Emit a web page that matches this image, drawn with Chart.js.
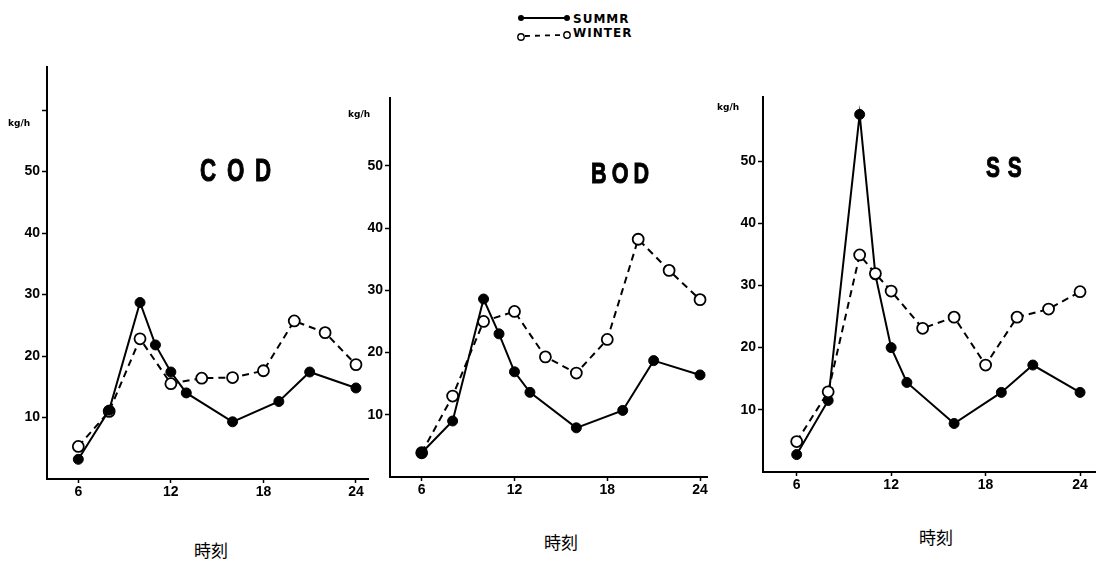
<!DOCTYPE html>
<html>
<head>
<meta charset="utf-8">
<script src="https://cdn.jsdelivr.net/npm/chart.js@4.4.1/dist/chart.umd.min.js"></script>
<style>
  body { margin: 0; width: 1103px; height: 561px; background: #fff; position: relative; overflow: hidden; }
  canvas { position: absolute; }
  .lbl { position: absolute; color: #000; white-space: nowrap; line-height: 1; }
  .ttl { font-family: "Liberation Sans", Arial, sans-serif; font-weight: bold; transform: scaleX(0.72); transform-origin: 0 0; -webkit-text-stroke: 1px #000; }
  .unit { font: bold 9px "DejaVu Sans", sans-serif; }
  .xname { font: 17px "Noto Sans CJK JP", sans-serif; }
  .lgd { font: bold 12px "DejaVu Sans", sans-serif; letter-spacing: 1px; }
  #legendMarks { position: absolute; left: 512px; top: 8px; }
</style>
</head>
<body>

<svg id="legendMarks" width="62" height="38"></svg>
<div class="lbl lgd" style="left:573px; top:12px;">SUMMR</div>
<div class="lbl lgd" style="left:573px; top:26px;">WINTER</div>

<canvas id="codChart" width="385" height="470" style="left:0px; top:50px;"></canvas>
<canvas id="bodChart" width="380" height="470" style="left:340px; top:50px;"></canvas>
<canvas id="ssChart" width="388" height="470" style="left:715px; top:50px;"></canvas>

<div class="lbl ttl" style="left:200px; top:155px; font-size:31px; letter-spacing:15px;">COD</div>
<div class="lbl ttl" style="left:591px; top:158px; font-size:30px; letter-spacing:7px;">BOD</div>
<div class="lbl ttl" style="left:986px; top:153px; font-size:29px; letter-spacing:11px;">SS</div>

<div class="lbl unit" style="left:8px; top:118px;">kg/h</div>
<div class="lbl unit" style="left:348px; top:109px;">kg/h</div>
<div class="lbl unit" style="left:717px; top:102px;">kg/h</div>

<div class="lbl xname" style="left:194px; top:537px;">時刻</div>
<div class="lbl xname" style="left:544px; top:529px;">時刻</div>
<div class="lbl xname" style="left:919px; top:524px;">時刻</div>

<script>
// hour-of-day ticks shared by all three panels
const hourTicks = [6, 12, 18, 24];

// COD (kg/h)
const codSummerHours = [6, 8, 10, 11, 12, 13, 16, 19, 21, 24];
const codSummerLoad  = [3.2, 11.2, 28.7, 21.8, 17.4, 14.0, 9.3, 12.6, 17.4, 14.8];
const codWinterHours = [6, 8, 10, 12, 14, 16, 18, 20, 22, 24];
const codWinterLoad  = [5.3, 11.0, 22.8, 15.5, 16.4, 16.5, 17.6, 25.7, 23.8, 18.6];
const codYTicks  = [10, 20, 30, 40, 50, 60];
const codYLabels = ['10', '20', '30', '40', '50', ''];

// BOD (kg/h)
const bodSummerHours = [6, 8, 10, 11, 12, 13, 16, 19, 21, 24];
const bodSummerLoad  = [3.9, 9.0, 28.6, 23.0, 16.9, 13.6, 7.9, 10.7, 18.7, 16.4];
const bodWinterHours = [6, 8, 10, 12, 14, 16, 18, 20, 22, 24];
const bodWinterLoad  = [3.9, 13.0, 25.0, 26.6, 19.3, 16.7, 22.1, 38.2, 33.2, 28.5];
const bodYTicks  = [10, 20, 30, 40, 50];
const bodYLabels = ['10', '20', '30', '40', '50'];

// SS (kg/h)
const ssSummerHours = [6, 8, 10, 11, 12, 13, 16, 19, 21, 24];
const ssSummerLoad  = [2.8, 11.5, 57.5, 31.7, 20.0, 14.4, 7.8, 12.8, 17.2, 12.8];
const ssWinterHours = [6, 8, 10, 11, 12, 14, 16, 18, 20, 22, 24];
const ssWinterLoad  = [4.9, 12.9, 34.9, 31.9, 29.1, 23.1, 24.9, 17.2, 24.9, 26.2, 29.0];
const ssYTicks  = [10, 20, 30, 40, 50];
const ssYLabels = ['10', '20', '30', '40', '50'];

const tickFont = { family: '"Liberation Sans", Arial, sans-serif', size: 14, weight: 'bold' };

function toPoints(xs, ys) {
    return xs.map((x, i) => ({ x: x, y: ys[i] }));
}

// one panel: canvas box is fixed in CSS, these numbers pin the plot area inside it
function drawPanel(id, p) {
    const ctx = document.getElementById(id).getContext('2d');
    const summer = {
        label: 'SUMMR',
        data: toPoints(p.summerHours, p.summerLoad),
        borderColor: '#000',
        borderWidth: 2,
        pointRadius: 5,
        pointBackgroundColor: '#000',
        pointBorderColor: '#000',
        pointBorderWidth: 1,
        tension: 0,
        order: p.winterOnTop ? 1 : 0
    };
    const winter = {
        label: 'WINTER',
        data: toPoints(p.winterHours, p.winterLoad),
        borderColor: '#000',
        borderWidth: 2,
        borderDash: [7, 5],
        pointRadius: 5.5,
        pointBackgroundColor: '#fff',
        pointBorderColor: '#000',
        pointBorderWidth: 1.8,
        tension: 0,
        order: p.winterOnTop ? 0 : 1
    };
    return new Chart(ctx, {
        type: 'line',
        data: { datasets: [summer, winter] },
        options: {
            responsive: false,
            animation: false,
            events: [],
            layout: { padding: { top: p.padTop, right: p.padRight, left: 0, bottom: 0 } },
            plugins: { legend: { display: false }, tooltip: { enabled: false } },
            scales: {
                x: {
                    type: 'linear',
                    min: p.xMin,
                    max: p.xMax,
                    afterBuildTicks: s => { s.ticks = hourTicks.map(v => ({ value: v })); },
                    afterFit: s => { s.height = p.xHeight; },
                    border: { color: '#000', width: 2 },
                    grid: { drawOnChartArea: false, color: '#000', tickLength: 4, tickWidth: 1.5 },
                    ticks: { color: '#000', font: tickFont, padding: 1, maxRotation: 0, autoSkip: false }
                },
                y: {
                    min: 0,
                    max: p.yMax,
                    afterBuildTicks: s => { s.ticks = p.yTicks.map(v => ({ value: v })); },
                    afterFit: s => { s.width = p.yWidth; },
                    border: { color: '#000', width: 2 },
                    grid: { drawOnChartArea: false, color: '#000', tickLength: 5, tickWidth: 1.5 },
                    ticks: {
                        color: '#000', font: tickFont, padding: 2, autoSkip: false,
                        callback: (v, i) => p.yLabels[i]
                    }
                }
            }
        }
    });
}

drawPanel('codChart', {
    summerHours: codSummerHours, summerLoad: codSummerLoad,
    winterHours: codWinterHours, winterLoad: codWinterLoad,
    yTicks: codYTicks, yLabels: codYLabels,
    xMin: 3.97, xMax: 24.78, yMax: 67.0,
    yWidth: 47, xHeight: 41, padTop: 17, padRight: 17,
    winterOnTop: false
});

drawPanel('bodChart', {
    summerHours: bodSummerHours, summerLoad: bodSummerLoad,
    winterHours: bodWinterHours, winterLoad: bodWinterLoad,
    yTicks: bodYTicks, yLabels: bodYLabels,
    xMin: 3.95, xMax: 24.45, yMax: 60.9,
    yWidth: 50, xHeight: 43, padTop: 48, padRight: 13,
    winterOnTop: false
});

drawPanel('ssChart', {
    summerHours: ssSummerHours, summerLoad: ssSummerLoad,
    winterHours: ssWinterHours, winterLoad: ssWinterLoad,
    yTicks: ssYTicks, yLabels: ssYLabels,
    xMin: 3.86, xMax: 24.95, yMax: 60.3,
    yWidth: 48, xHeight: 48, padTop: 47, padRight: 8,
    winterOnTop: true
});

// legend symbols: solid line with filled ends, dashed line with open ends
const svg = document.getElementById('legendMarks');
svg.innerHTML =
    '<line x1="9" y1="10" x2="55" y2="10" stroke="#000" stroke-width="1.8"/>' +
    '<circle cx="9" cy="10" r="3" fill="#000"/>' +
    '<circle cx="55" cy="10" r="3" fill="#000"/>' +
    '<line x1="13" y1="28" x2="51" y2="27" stroke="#000" stroke-width="1.8" stroke-dasharray="5,5"/>' +
    '<circle cx="9" cy="29" r="3.2" fill="#fff" stroke="#000" stroke-width="1.4"/>' +
    '<circle cx="55" cy="27" r="3.2" fill="#fff" stroke="#000" stroke-width="1.4"/>';
</script>
</body>
</html>
